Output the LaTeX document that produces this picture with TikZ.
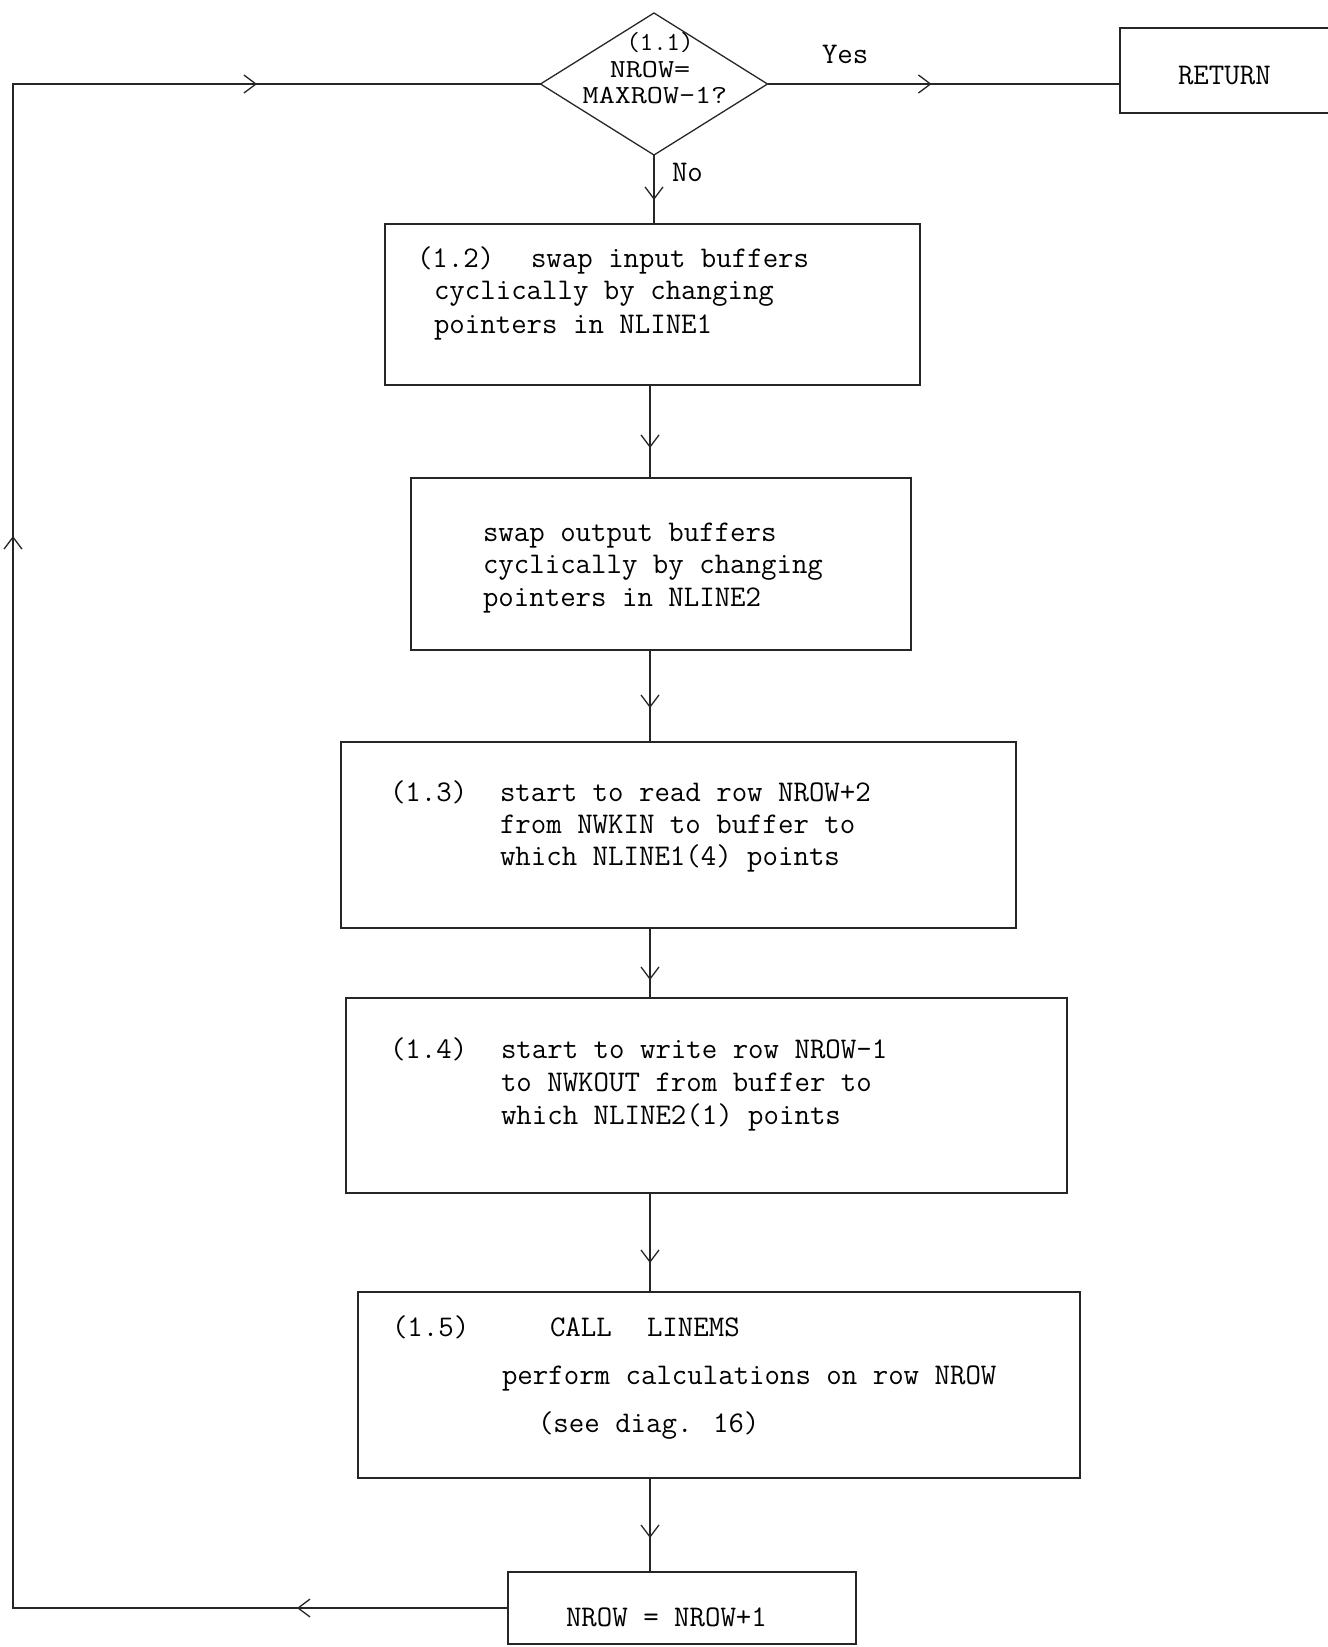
\documentclass[tikz,border=0pt]{standalone}
\usepackage{fontspec}
\usepackage{graphicx}
\usetikzlibrary{shapes.geometric,arrows.meta,decorations.markings}
\begin{document}
\begin{tikzpicture}[x=1pt,y=-1pt,
  flow/.style={line width=1.3pt, draw=black!85},
  midarrow/.style={postaction={decorate, decoration={markings,
      mark=at position #1 with {\arrow{Straight Barb[length=12pt,width=18pt,line width=1.3pt]}}}}},
  box/.style={draw=black!85, line width=1.3pt, inner sep=0pt, outer sep=0pt},
  txt/.style={inner sep=0pt, outer sep=0pt, anchor=base west, font=\ttfamily\fontsize{30}{36}\selectfont},
  ctxt/.style={txt, anchor=base},
  dtxt/.style={inner sep=0pt, outer sep=0pt, anchor=base, font=\ttfamily\fontsize{26}{30}\selectfont}
]
\useasboundingbox (0,0) rectangle (1328,1647);

% decision
\node[box, diamond, minimum width=227pt, minimum height=142pt] (dia) at (654,84) {};
\node[dtxt] (d1) at (660,50) {(1.1)};
\node[dtxt] (d2) at (650,77) {\scalebox{1.2}[1]{NROW=}};
\node[dtxt] (d3) at (655,103) {\scalebox{1.2}[1]{MAXROW-1?}};
\node[txt] (yes) at (822,63) {Yes};
\node[txt] (no) at (672,181) {No};

% return
\node[inner sep=0pt, outer sep=0pt, minimum width=208pt, minimum height=85pt] (ret) at (1224,70.5) {};
\draw[flow] (ret.north east) -- (ret.north west) -- (ret.south west) -- (ret.south east);
\node[txt] (tret) at (1178,84) {RETURN};

% boxes
\node[box, minimum width=535pt, minimum height=161pt] (box12) at (652.5,304.5) {};
\node[box, minimum width=500pt, minimum height=172pt] (box2) at (661,564) {};
\node[box, minimum width=675pt, minimum height=186pt] (box13) at (678.5,835) {};
\node[box, minimum width=721pt, minimum height=195pt] (box14) at (706.5,1095.5) {};
\node[box, minimum width=722pt, minimum height=186pt] (box15) at (719,1385) {};
\node[box, minimum width=348pt, minimum height=72pt] (nrow) at (682,1608) {};

% texts
\node[txt] (t12n) at (417,267) {(1.2)};
\node[txt] (t12a) at (531,267) {swap input buffers};
\node[txt] (t12b) at (434,299) {cyclically by changing};
\node[txt] (t12c) at (434,333) {pointers in NLINE1};

\node[txt] (t2a) at (483,541) {swap output buffers};
\node[txt] (t2b) at (483,573) {cyclically by changing};
\node[txt] (t2c) at (483,606) {pointers in NLINE2};

\node[txt] (t13n) at (390,801) {(1.3)};
\node[txt] (t13a) at (500,801) {start to read row NROW+2};
\node[txt] (t13b) at (500,833) {from NWKIN to buffer to};
\node[txt] (t13c) at (500,865) {which NLINE1(4) points};

\node[txt] (t14n) at (390,1058) {(1.4)};
\node[txt] (t14a) at (501,1058) {start to write row NROW-1};
\node[txt] (t14b) at (501,1091) {to NWKOUT from buffer to};
\node[txt] (t14c) at (501,1124) {which NLINE2(1) points};

\node[txt] (t15n) at (392,1336) {(1.5)};
\node[txt] (t15a) at (550,1336) {CALL};
\node[txt] (t15b) at (647,1336) {LINEMS};
\node[txt] (t15c) at (502,1384) {perform calculations on row NROW};
\node[txt] (t15d) at (538,1432) {(see diag. 16)};

\node[txt] (tn) at (566,1626) {NROW = NROW+1};

% connectors
\coordinate (ax) at (650,0);
\coordinate (lft) at (13,0);
\draw[flow, midarrow=45pt] (dia.south) -- (dia.south |- box12.north);
\draw[flow, midarrow=63pt] (ax |- box12.south) -- (ax |- box2.north);
\draw[flow, midarrow=58pt] (ax |- box2.south) -- (ax |- box13.north);
\draw[flow, midarrow=52pt] (ax |- box13.south) -- (ax |- box14.north);
\draw[flow, midarrow=70pt] (ax |- box14.south) -- (ax |- box15.north);
\draw[flow, midarrow=60pt] (ax |- box15.south) -- (ax |- nrow.north);
\draw[flow, midarrow=164pt] (dia.east) -- (dia.east -| ret.west);
\draw[flow, midarrow=211pt, midarrow=1567pt, midarrow=2263pt]
  (nrow.west) -- (nrow.west -| lft) -- (lft |- dia.west) -- (dia.west);
\end{tikzpicture}
\end{document}
